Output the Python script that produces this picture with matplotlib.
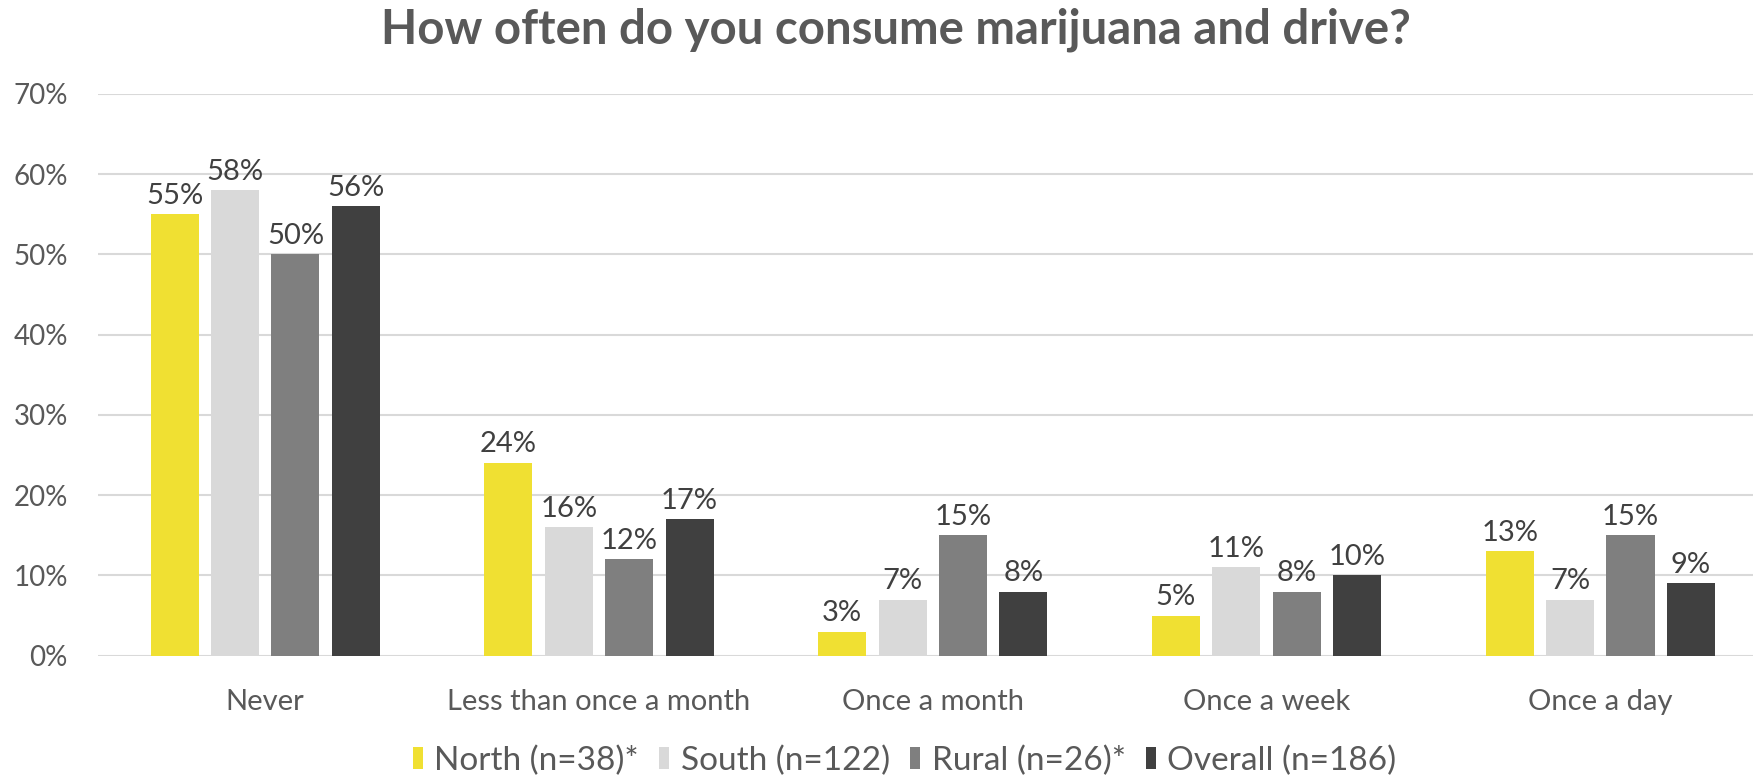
import numpy as np
import matplotlib.pyplot as plt

plt.rcParams['font.family'] = ['Lato', 'DejaVu Sans']

categories = ['Never', 'Less than once a month', 'Once a month', 'Once a week', 'Once a day']
series_names = ['North (n=38)*', 'South (n=122)', 'Rural (n=26)*', 'Overall (n=186)']
north = [55, 24, 3, 5, 13]
south = [58, 16, 7, 11, 7]
rural = [50, 12, 15, 8, 15]
overall = [56, 17, 8, 10, 9]
colors = ['#F0E032', '#D9D9D9', '#7F7F7F', '#404040']
text_color = '#595959'

fig = plt.figure(figsize=(17.53, 7.76), dpi=100)
ax = fig.add_axes([0.0561, 0.155, 0.952, 0.724])

x = np.arange(len(categories))
width = 0.144
step = 0.181
offsets = (np.arange(4) - 1.5) * step

for i, (vals, name) in enumerate(zip([north, south, rural, overall], series_names)):
    v = np.array(vals) / 100
    bars = ax.bar(x + offsets[i], v, width, color=colors[i], label=name, zorder=3)
    for b, val in zip(bars, vals):
        ax.text(b.get_x() + b.get_width() / 2, b.get_height() + 0.007, f'{val}%',
                ha='center', va='bottom', fontsize=21, color='#404040')

ax.set_xlim(-0.5, len(categories) - 0.5)
ax.set_ylim(0, 0.7)
ax.set_yticks(np.arange(0, 0.71, 0.1))
ax.set_yticklabels([f'{int(round(t * 100))}%' for t in np.arange(0, 0.71, 0.1)])
ax.set_xticks(x)
ax.set_xticklabels(categories, fontsize=21)
ax.tick_params(axis='both', length=0, labelcolor=text_color)
ax.tick_params(axis='y', labelsize=20, pad=22)
ax.tick_params(axis='x', pad=24)
ax.grid(axis='y', color='#D9D9D9', linewidth=1.5, zorder=0)
for s in ax.spines.values():
    s.set_visible(False)

fig.suptitle('How often do you consume marijuana and drive?', fontsize=34,
             fontweight='bold', color=text_color, x=0.511, y=0.99)

fig.legend(loc='center', ncol=4, frameon=False, fontsize=24,
           labelcolor=text_color, handlelength=0.3, handleheight=0.6,
           handletextpad=0.35, columnspacing=0.6, bbox_to_anchor=(0.516, 0.02))

fig.savefig('out.png', dpi=100)
